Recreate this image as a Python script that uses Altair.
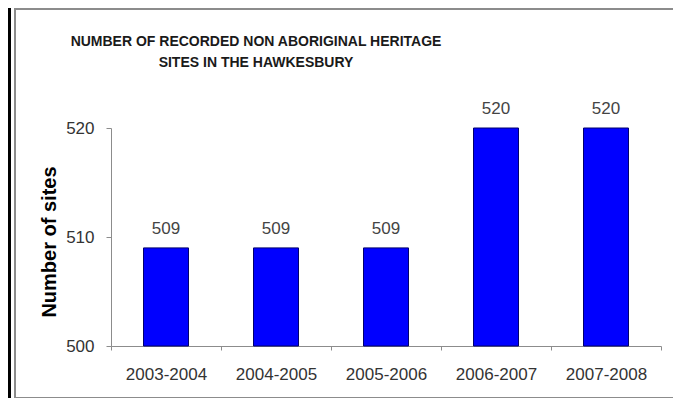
import altair as alt
import pandas as pd

years = ["2003-2004", "2004-2005", "2005-2006", "2006-2007", "2007-2008"]
sites = [509, 509, 509, 520, 520]
y_ticks = [500, 510, 520]
y_min, y_max = 500, 520
title_lines = ["NUMBER OF RECORDED NON ABORIGINAL HERITAGE", "SITES IN THE HAWKESBURY"]
y_title = "Number of sites"

df = pd.DataFrame({"year": years, "sites": sites})
FONT = "Liberation Sans"

x_enc = alt.X("year:N", sort=years, title=None,
              scale=alt.Scale(paddingInner=0, paddingOuter=0),
              axis=alt.Axis(labelAngle=0, tickBand="extent", tickSize=4, labelPadding=16,
                            labelFontSize=17, labelColor="#333333", labelFont=FONT,
                            domainColor="#8c8c8c", tickColor="#8c8c8c", grid=False))
y_scale = alt.Scale(domain=[y_min, y_max], zero=False, nice=False)

base = alt.Chart(df)

bars = base.mark_bar(size=45, color="#0000FF", stroke="#00006e", strokeWidth=1).encode(
    x=x_enc,
    y=alt.Y("sites:Q", scale=y_scale, title=None,
            axis=alt.Axis(values=y_ticks, grid=False, tickSize=5, labelPadding=12,
                          labelFontSize=17, labelColor="#333333", labelFont=FONT,
                          domainColor="#8c8c8c", tickColor="#8c8c8c")),
    y2=alt.datum(y_min),
)

labels = base.mark_text(baseline="bottom", dy=-10, fontSize=17, font=FONT, color="#444444").encode(
    x=alt.X("year:N", sort=years),
    y=alt.Y("sites:Q", scale=y_scale),
    text="sites:Q",
)

one = alt.Data(values=[{"k": 0}])

t1 = alt.Chart(one).mark_text(fontSize=14, fontWeight="bold", font=FONT, color="#1a1a1a",
                              baseline="middle", align="center").encode(
    x=alt.value(145), y=alt.value(-86), text=alt.value(title_lines[0]))
t2 = alt.Chart(one).mark_text(fontSize=14, fontWeight="bold", font=FONT, color="#1a1a1a",
                              baseline="middle", align="center").encode(
    x=alt.value(145), y=alt.value(-65), text=alt.value(title_lines[1]))
ytitle = alt.Chart(one).mark_text(fontSize=20, fontWeight="bold", font=FONT, color="#000000",
                                  baseline="middle", align="center", angle=270).encode(
    x=alt.value(-61), y=alt.value(114), text=alt.value(y_title))

frame = alt.Chart(one).mark_rect(filled=False, stroke="#8c8c8c", strokeWidth=2).encode(
    x=alt.value(-96), x2=alt.value(563), y=alt.value(-119), y2=alt.value(270))
black = alt.Chart(one).mark_rect(color="#000000").encode(
    x=alt.value(-103), x2=alt.value(-100), y=alt.value(-120), y2=alt.value(280))

chart = alt.layer(frame, black, bars, labels, t1, t2, ytitle).properties(
    width=550, height=218,
    background="white",
    autosize=alt.AutoSizeParams(type="none"),
    padding={"left": 103, "top": 120, "right": 12, "bottom": 52},
).configure_view(stroke="transparent", strokeWidth=0)

chart.save("out.html", embed_options={"renderer": "svg", "actions": False})
